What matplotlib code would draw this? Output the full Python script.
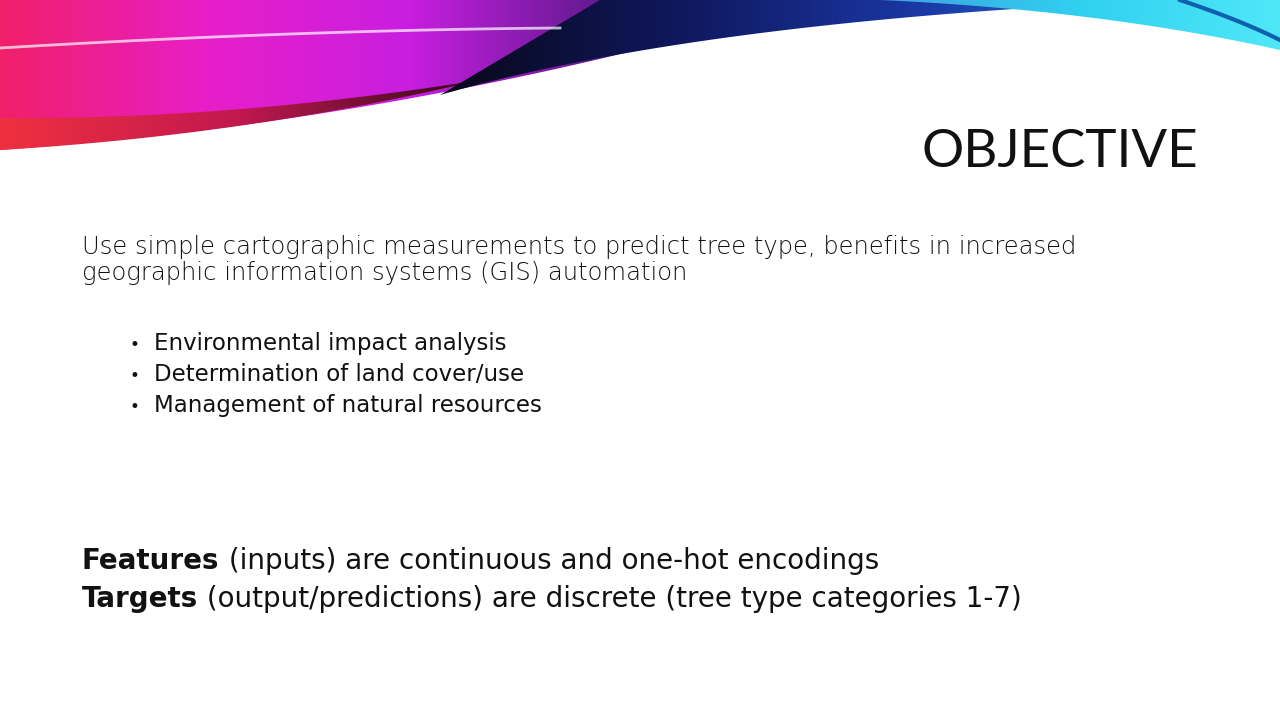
import matplotlib
matplotlib.use("Agg")
import matplotlib.pyplot as plt
import numpy as np
from matplotlib.path import Path
from matplotlib.patches import PathPatch

title = "OBJECTIVE"
intro = ["Use simple cartographic measurements to predict tree type, benefits in increased",
         "geographic information systems (GIS) automation"]
bullets = ["Environmental impact analysis",
           "Determination of land cover/use",
           "Management of natural resources"]
bold_lines = [("Features", " (inputs) are continuous and one-hot encodings"),
              ("Targets", " (output/predictions) are discrete (tree type categories 1-7)")]

plt.rcParams['font.family'] = ['DejaVu Sans']
fig = plt.figure(figsize=(12.8, 7.2), dpi=100)
ax = fig.add_axes([0, 0, 1, 1])
ax.set_xlim(0, 1280)
ax.set_ylim(720, 0)
ax.axis('off')


def gradient_fill(verts, colors, extent):
    path = Path(verts)
    patch = PathPatch(path, facecolor='none', edgecolor='none')
    ax.add_patch(patch)
    cmap = matplotlib.colors.LinearSegmentedColormap.from_list('g', colors)
    grad = np.linspace(0, 1, 256).reshape(1, -1)
    im = ax.imshow(grad, cmap=cmap, extent=extent, aspect='auto', zorder=1)
    im.set_clip_path(patch)


def curve(x0, y0, x1, y1, x2, y2, n=60):
    t = np.linspace(0, 1, n)
    x = (1 - t) ** 2 * x0 + 2 * (1 - t) * t * x1 + t ** 2 * x2
    y = (1 - t) ** 2 * y0 + 2 * (1 - t) * t * y1 + t ** 2 * y2
    return list(zip(x, y))

# left magenta / red swoosh
low = curve(0, 150, 420, 120, 820, 0)
gradient_fill([(0, 0)] + low + [(0, 0)],
              ['#f0206a', '#e81ec8', '#c81ee0', '#5a1a8a', '#101040'],
              (0, 820, 150, 0))
red = curve(0, 150, 250, 135, 480, 80)
red2 = curve(480, 80, 230, 120, 0, 118)
gradient_fill(red + red2, ['#f03040', '#c01850', '#300818'], (0, 480, 150, 80))
ax.plot(*zip(*curve(0, 48, 300, 30, 560, 28)), color='white', lw=2, alpha=0.7, zorder=2)
# dark blue band
gradient_fill(curve(440, 95, 700, 20, 1180, 0) + [(1180, 0), (600, 0)],
              ['#080818', '#101860', '#1a3aa8', '#2a80d0'], (440, 1180, 95, 0))
# cyan right band
gradient_fill(curve(880, 0, 1100, 10, 1280, 50) + [(1280, 0)],
              ['#40a0e0', '#30d0f0', '#50e8f8'], (880, 1280, 50, 0))
ax.plot(*zip(*curve(1180, 0, 1240, 20, 1280, 40)), color='#1060b0', lw=3, zorder=2)

ax.text(1198, 167, title, fontsize=38, family=['Lato', 'DejaVu Sans'],
        ha='right', va='baseline', color='#111111')
for i, line in enumerate(intro):
    ax.text(82, 254 + i * 26, line, fontsize=17.5, va='baseline', color='#111111',
            fontweight='light')
for i, b in enumerate(bullets):
    y = 350 + i * 31
    ax.text(130, y, "\u2022", fontsize=12, va='baseline', color='#111111')
    ax.text(154, y, b, fontsize=16.5, va='baseline', color='#111111')

fig.canvas.draw()
r = fig.canvas.get_renderer()
for i, (bw, rest) in enumerate(bold_lines):
    y = 569 + i * 38
    t = ax.text(82, y, bw, fontsize=20, fontweight='bold', va='baseline', color='#111111')
    bb = t.get_window_extent(renderer=r)
    ax.text(bb.x1, y, rest, fontsize=20, va='baseline', color='#111111')

fig.savefig("out.png", dpi=100)
